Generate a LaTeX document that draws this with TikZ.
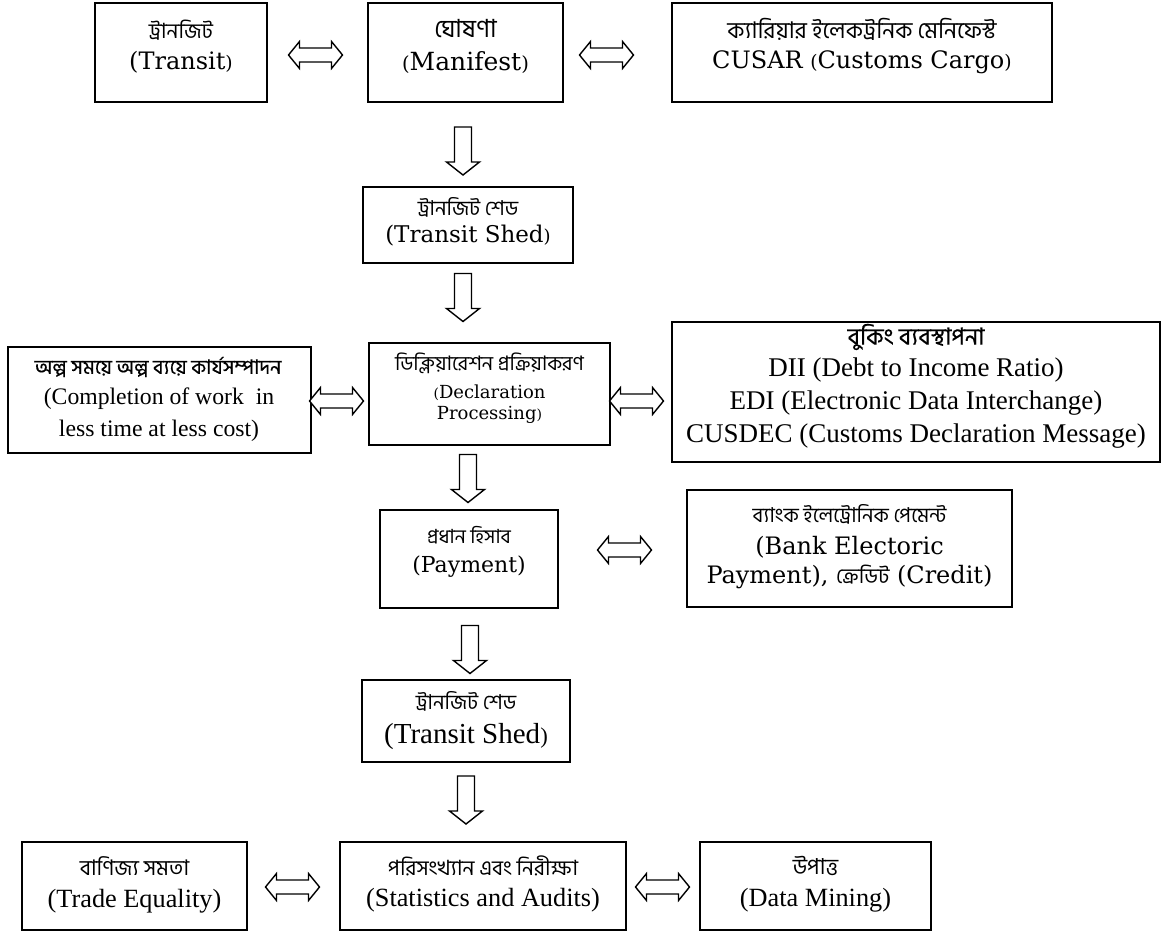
\documentclass[tikz,border=0pt]{standalone}
\usepackage{fontspec}
\setmainfont{DejaVu Serif}
\newfontfamily\tms{Liberation Serif}
\newfontfamily\bng[Script=Bengali]{Hind Siliguri}
\newfontfamily\bngb[Script=Bengali,FakeBold=0.5]{Hind Siliguri}
\usetikzlibrary{calc}
\newcommand\smp[1]{\scalebox{0.78}{#1}}
\newcommand\fsz[1]{\fontsize{#1}{#1}\selectfont}
\tikzset{
  arrowline/.style={draw=black, line width=1.4pt, line join=miter, fill=white},
  pics/harr/.style={code={
    \draw[arrowline] (-27,0) -- (-16,-13.5) -- (-16,-7) -- (16,-7) -- (16,-13.5) -- (27,0)
      -- (16,13.5) -- (16,7) -- (-16,7) -- (-16,13.5) -- cycle;}},
  pics/varr/.style={code={
    \draw[arrowline] (-8.5,-24) -- (8.5,-24) -- (8.5,11) -- (16.5,11) -- (0,24)
      -- (-16.5,11) -- (-8.5,11) -- cycle;}},
  box/.style={draw=black, line width=1.8pt, inner sep=0pt},
  ln/.style={inner sep=0pt, anchor=center, text=black},
  bn/.style={ln, font=\bng\fsz{22}},
  dv/.style={ln, font=\fsz{24}},
  tm/.style={ln, font=\tms\fsz{26.3}}
}
\begin{document}
\begin{tikzpicture}[x=1pt,y=-1pt]
\useasboundingbox (0,0) rectangle (1165,932);
% boxes
\node[box, minimum width=172, minimum height=99] (transit) at (181,52.5) {};
\node[box, minimum width=195, minimum height=99] (manifest) at (465.5,52.5) {};
\node[box, minimum width=380, minimum height=99] (cusar) at (862,52.5) {};
\node[box, minimum width=210, minimum height=76] (shed1) at (468,225) {};
\node[box, minimum width=303, minimum height=106] (compl) at (159.5,400) {};
\node[box, minimum width=241, minimum height=102] (decl) at (489.5,394) {};
\node[box, minimum width=488, minimum height=140] (book) at (916,392) {};
\node[box, minimum width=178, minimum height=98] (pay) at (469,559) {};
\node[box, minimum width=325, minimum height=117] (bank) at (849.5,548.5) {};
\node[box, minimum width=208, minimum height=82] (shed2) at (466,721) {};
\node[box, minimum width=225, minimum height=88] (trade) at (134.5,886) {};
\node[box, minimum width=286, minimum height=88] (stats) at (483,886) {};
\node[box, minimum width=231, minimum height=88] (data) at (815.5,886) {};
% texts
\node[bn, font=\bng\fsz{21}] (transitB) at (181,30) {ট্রানজিট};
\node[dv] (transitE) at (181,62) {(Transit\smp{)}};
\node[bn, font=\bng\fsz{25}] (manifestB) at (465.5,29) {ঘোষণা};
\node[dv, font=\fsz{25}] (manifestE) at (465.5,63) {\smp{(}Manifest\smp{)}};
\node[bn, font=\bng\fsz{23}] (cusarB) at (862,29) {ক্যারিয়ার ইলেকট্রনিক মেনিফেস্ট};
\node[dv] (cusarE) at (862,62) {CUSAR \smp{(}Customs Cargo\smp{)}};
\node[bn, font=\bng\fsz{20.5}] (shed1B) at (468,207) {ট্রানজিট শেড};
\node[dv, font=\fsz{23}] (shed1E) at (468,236) {(Transit Shed\smp{)}};
\node[bn, font=\bngb\fsz{20}] (complB) at (158,367) {অল্প সময়ে অল্প ব্যয়ে কার্যসম্পাদন};
\node[tm, font=\tms\fsz{23.7}] (complE1) at (159,399) {(Completion of work\ \ in};
\node[tm, font=\tms\fsz{23.7}] (complE2) at (159,431) {less time at less cost)};
\node[bn, font=\bng\fsz{20}] (declB) at (489.5,363) {ডিক্লিয়ারেশন প্রক্রিয়াকরণ};
\node[dv, font=\fsz{18}] (declE1) at (489.5,393) {\smp{(}Declaration};
\node[dv, font=\fsz{18}] (declE2) at (489.5,415) {Processing\smp{)}};
\node[bn, font=\bngb\fsz{23.5}] (bookB) at (916,337) {বুকিং ব্যবস্থাপনা};
\node[tm, font=\tms\fsz{27}] (bookE1) at (916,370) {DII (Debt to Income Ratio)};
\node[tm, font=\tms\fsz{27}] (bookE2) at (916,403) {EDI (Electronic Data Interchange)};
\node[tm, font=\tms\fsz{27}] (bookE3) at (916,436) {CUSDEC (Customs Declaration Message)};
\node[bn, font=\bng\fsz{19.5}] (payB) at (469,535) {প্রধান হিসাব};
\node[dv, font=\fsz{22}] (payE) at (469,567) {(Payment)};
\node[bn, font=\bng\fsz{20.5}] (bankB) at (849.5,514) {ব্যাংক ইলেট্রোনিক পেমেন্ট};
\node[dv] (bankE1) at (849.5,547) {(Bank Electoric};
\node[dv] (bankE2) at (849.5,577) {Payment), {\bng\fsz{21}ক্রেডিট} (Credit)};
\node[bn, font=\bng\fsz{20.5}] (shed2B) at (466,701) {ট্রানজিট শেড};
\node[tm, font=\tms\fsz{29}] (shed2E) at (466,737) {(Transit Shed\smp{)}};
\node[bn, font=\bng\fsz{21.5}] (tradeB) at (134.5,866) {বাণিজ্য সমতা};
\node[tm] (tradeE) at (134.5,901) {(Trade Equality)};
\node[bn, font=\bng\fsz{21}] (statsB) at (483,866) {পরিসংখ্যান এবং নিরীক্ষা};
\node[tm] (statsE) at (483,900) {(Statistics and Audits)};
\node[bn] (dataB) at (815.5,866) {উপাত্ত};
\node[tm] (dataE) at (815.5,900) {(Data Mining)};
% horizontal double arrows
\pic (a1) at ($(transit.east)!0.5!(manifest.west)+(-2,2.5)$) {harr};
\pic (a2) at ($(manifest.east)!0.5!(cusar.west)+(-11,2.5)$) {harr};
\pic (a3) at ($(compl.east)!0.5!(decl.west)+(-3.5,4)$) {harr};
\pic (a4) at ($(decl.east)!0.5!(book.west)+(-4.5,8)$) {harr};
\pic (a5) at ($(pay.east)!0.5!(bank.west)+(2,-3.75)$) {harr};
\pic (a6) at ($(trade.east)!0.5!(stats.west)+(-1,1)$) {harr};
\pic (a7) at ($(stats.east)!0.5!(data.west)+(-0.5,1)$) {harr};
% down arrows
\pic (d1) at ($(manifest.south)!0.5!(shed1.north)+(-3.75,6.5)$) {varr};
\pic (d2) at ($(shed1.south)!0.5!(shed1.south |- decl.north)+(-5,-5.5)$) {varr};
\pic (d3) at ($(pay.north)!0.5!(pay.north |- decl.south)+(-1,1)$) {varr};
\pic (d4) at ($(pay.south)!0.5!(shed2.north)+(2.5,5.5)$) {varr};
\pic (d5) at ($(shed2.south)!0.5!(shed2.south |- stats.north)+(0,-2)$) {varr};
\end{tikzpicture}
\end{document}
